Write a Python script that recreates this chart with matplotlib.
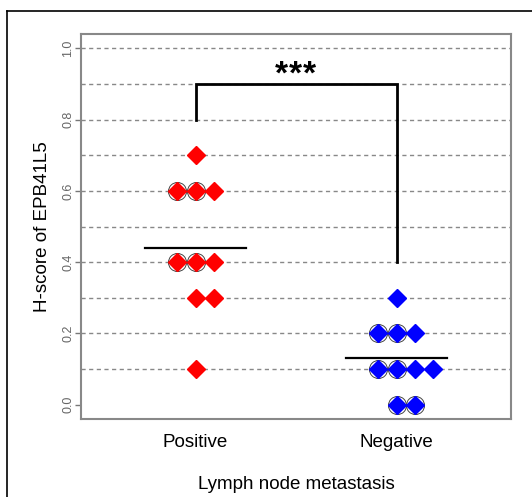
import numpy as np
import matplotlib
matplotlib.use("Agg")
import matplotlib.pyplot as plt
from matplotlib.lines import Line2D

plt.rcParams['font.family'] = ['Liberation Sans', 'DejaVu Sans']

groups = ["Positive", "Negative"]
colors = ["#ff0000", "#0000ff"]
positive = [0.7, 0.6, 0.6, 0.6, 0.4, 0.4, 0.4, 0.3, 0.3, 0.1]
positive_circ = [0, 1, 1, 0, 1, 1, 0, 0, 0, 0]
negative = [0.3, 0.2, 0.2, 0.2, 0.1, 0.1, 0.1, 0.1, 0.0, 0.0]
negative_circ = [0, 1, 1, 0, 1, 1, 0, 0, 1, 1]
bracket_y = [0.8, 0.9, 0.9, 0.4]
signif = "***"

fig = plt.figure(figsize=(5.32, 4.97), dpi=100)
ax = fig.add_axes([0.1523, 0.1569, 0.8083, 0.7747])

# dashed reference lines every 0.1
for g in np.arange(0.1, 1.01, 0.1):
    ax.axhline(g, color="#888888", lw=1.0, ls=(0, (3, 2.5)), zorder=1)

step = 0.09
for i, (vals, circ) in enumerate([(positive, positive_circ), (negative, negative_circ)]):
    xpos = i + 1
    vals = np.array(vals)
    circ = np.array(circ, dtype=bool)
    xs = np.zeros(len(vals))
    for v in np.unique(vals):
        idx = np.where(vals == v)[0]
        n = len(idx)
        xs[idx] = xpos + (np.arange(n) - (n - 1) // 2) * step
    ax.plot(xs[circ], vals[circ], 'o', ms=13, mfc='none', mec='#444444', mew=0.7, zorder=2)
    ax.plot(xs, vals, 'D', ms=9.3, color=colors[i], mec=colors[i], zorder=3)
    m = vals.mean()
    ax.plot([xpos - 0.25, xpos + 0.25], [m, m], color='black', lw=1.6, zorder=4)

ax.plot([1, 1, 2, 2], bracket_y, color='black', lw=2.0, solid_joinstyle='miter', zorder=4)
# significance stars, spaced out a little
for k, ch in enumerate(signif):
    ax.text(1.495 + (k - 1) * 0.07, 0.925, ch, ha='center', va='center',
            fontsize=24, fontweight='bold')

ax.set_xlim(0.43, 2.57)
ax.set_ylim(-0.04, 1.04)
ax.set_xticks([1, 2])
ax.set_xticklabels(groups, fontsize=13.5)
ax.tick_params(axis='x', length=0, pad=11)
ax.set_yticks(np.arange(0, 1.01, 0.2))
ax.set_yticklabels(["%.1f" % t for t in np.arange(0, 1.01, 0.2)], rotation=90,
                   va='center', fontsize=9, color='#666666')
ax.tick_params(axis='y', length=4, color='#777777', width=1.0, pad=1)
for s in ax.spines.values():
    s.set_color('#888888')
    s.set_linewidth(1.5)

ax.set_xlabel("Lymph node metastasis", fontsize=13.5, labelpad=18)
ax.set_ylabel("H-score of EPB41L5", fontsize=13.5, labelpad=8)

# outer frame on the left and top edges
fig.add_artist(Line2D([0.0132, 0.0132], [0, 0.978], color='black', lw=1.2))
fig.add_artist(Line2D([0.0132, 1.0], [0.978, 0.978], color='black', lw=1.2))

fig.savefig("out.png", dpi=100)
